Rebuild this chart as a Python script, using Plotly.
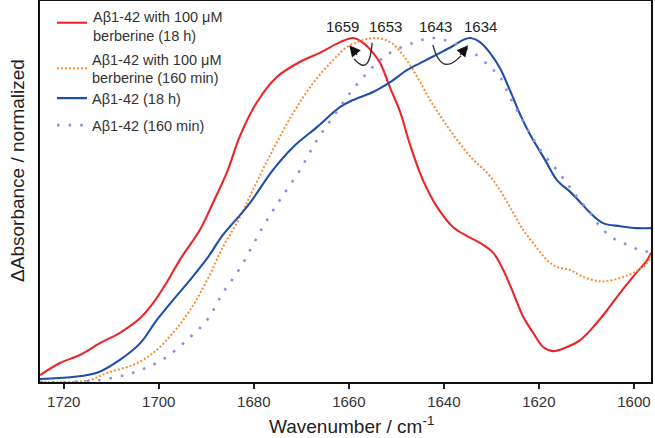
import plotly.graph_objects as go

# ---- data (wavenumber cm^-1, normalized absorbance) ----
red_w = [1725.0, 1720.8, 1716.6, 1712.4, 1708.2, 1703.9, 1701.2, 1698.3, 1695.5, 1691.3, 1688.6, 1685.6,
         1682.9, 1679.3, 1675.1, 1670.3, 1666.1, 1661.8, 1659.1, 1657.0, 1654.9, 1653.4, 1651.3, 1649.2,
         1647.1, 1644.4, 1641.4, 1638.1, 1635.1, 1632.4, 1629.6, 1627.5, 1625.4, 1623.3, 1621.2, 1619.1,
         1617.0, 1614.1, 1611.3, 1608.6, 1605.6, 1602.9, 1600.2, 1597.2, 1596.4]
red_v = [0.018, 0.050, 0.071, 0.102, 0.129, 0.168, 0.207, 0.262, 0.322, 0.400, 0.470, 0.552,
         0.646, 0.735, 0.801, 0.840, 0.864, 0.892, 0.903, 0.890, 0.864, 0.837, 0.772, 0.709,
         0.622, 0.530, 0.459, 0.407, 0.383, 0.365, 0.339, 0.294, 0.234, 0.171, 0.129, 0.092,
         0.081, 0.092, 0.110, 0.144, 0.189, 0.234, 0.276, 0.320, 0.339]

orange_w = [1725.0, 1718.1, 1714.5, 1710.9, 1705.4, 1701.2, 1697.0, 1693.4, 1689.8, 1686.5, 1682.9, 1680.2,
            1676.0, 1671.7, 1667.5, 1663.3, 1660.4, 1657.6, 1654.9, 1652.8, 1650.7, 1648.6, 1645.6, 1642.9,
            1640.2, 1637.2, 1633.8, 1630.9, 1628.2, 1625.4, 1623.3, 1621.2, 1618.3, 1616.2, 1613.4, 1610.7,
            1607.7, 1605.6, 1602.9, 1600.2, 1597.2, 1596.4]
orange_v = [0.000, 0.000, 0.005, 0.024, 0.045, 0.076, 0.129, 0.189, 0.268, 0.354, 0.433, 0.504,
            0.609, 0.706, 0.785, 0.845, 0.879, 0.895, 0.903, 0.900, 0.887, 0.858, 0.801, 0.740,
            0.688, 0.635, 0.583, 0.549, 0.504, 0.444, 0.399, 0.365, 0.320, 0.302, 0.294, 0.276,
            0.265, 0.265, 0.273, 0.286, 0.312, 0.333]

blue_w = [1725.0, 1718.1, 1713.0, 1708.2, 1703.9, 1700.4, 1697.0, 1693.4, 1689.8, 1686.5, 1682.9, 1680.8,
          1676.0, 1671.7, 1666.7, 1661.8, 1659.1, 1654.9, 1651.3, 1647.7, 1645.0, 1640.8, 1638.1, 1635.9,
          1634.5, 1632.4, 1630.3, 1628.2, 1626.1, 1623.9, 1621.8, 1618.7, 1616.2, 1613.4, 1611.3, 1609.2,
          1606.5, 1602.9, 1599.3, 1596.4]
blue_v = [0.008, 0.013, 0.024, 0.058, 0.102, 0.163, 0.215, 0.268, 0.325, 0.386, 0.438, 0.470,
          0.556, 0.617, 0.669, 0.722, 0.740, 0.761, 0.787, 0.819, 0.837, 0.864, 0.882, 0.898,
          0.903, 0.892, 0.864, 0.824, 0.766, 0.701, 0.648, 0.583, 0.530, 0.499, 0.472, 0.444,
          0.417, 0.409, 0.404, 0.404]

purple_w = [1725.0, 1718.1, 1710.9, 1703.9, 1698.3, 1693.4, 1689.8, 1686.5, 1682.9, 1678.1, 1674.5, 1670.3,
            1666.7, 1663.3, 1659.7, 1656.2, 1653.4, 1651.3, 1646.5, 1642.3, 1638.1, 1633.8, 1630.3, 1628.2,
            1626.1, 1622.9, 1619.7, 1616.6, 1614.1, 1612.0, 1609.2, 1607.1, 1604.4, 1601.4, 1598.7, 1596.4]
purple_v = [0.000, 0.000, 0.008, 0.031, 0.066, 0.118, 0.163, 0.234, 0.299, 0.407, 0.478, 0.556,
            0.635, 0.696, 0.759, 0.811, 0.845, 0.864, 0.890, 0.903, 0.890, 0.864, 0.827, 0.801,
            0.748, 0.675, 0.609, 0.562, 0.522, 0.486, 0.444, 0.407, 0.378, 0.360, 0.346, 0.341]

names = ["Aβ1-42 with 100 μM<br>berberine (18 h)",
         "Aβ1-42 with 100 μM<br>berberine (160 min)",
         "Aβ1-42 (18 h)",
         "Aβ1-42 (160 min)"]
colors = ["#e8262b", "#f39035", "#1f4fa8", "#8f8ee8"]

peak_labels = ["1659", "1653", "1643", "1634"]
peak_label_x = [1661.4, 1652.2, 1641.8, 1632.2]
peak_label_y = 0.932

x_ticks = [1720, 1700, 1680, 1660, 1640, 1620, 1600]

FONT = "Liberation Sans, Arial, Helvetica, sans-serif"

legend_keys = ["legend", "legend2", "legend3", "legend4"]
legend_y = [0.939, 0.823, 0.745, 0.674]

fig = go.Figure()
# first entry's legend is drawn as annotation + sample line (plotly clamps legend boxes at the page top)
fig.add_trace(go.Scatter(x=red_w, y=red_v, mode="lines", name=names[0], showlegend=False,
                         line=dict(color=colors[0], width=2.1), line_shape="spline"))
fig.add_trace(go.Scatter(x=orange_w, y=orange_v, mode="lines", name=names[1], legend=legend_keys[1],
                         line=dict(color=colors[1], width=2, dash="2px,2px"), line_shape="spline"))
fig.add_trace(go.Scatter(x=blue_w, y=blue_v, mode="lines", name=names[2], legend=legend_keys[2],
                         line=dict(color=colors[2], width=2.1), line_shape="spline"))
fig.add_trace(go.Scatter(x=purple_w, y=purple_v, mode="lines", name=names[3], legend=legend_keys[3],
                         line=dict(color=colors[3], width=2.6, dash="2.6px,9px"), line_shape="spline"))

fig.add_shape(type="line", xref="paper", yref="paper", x0=0.0278, x1=0.0769, y0=0.943, y1=0.943,
              line=dict(color=colors[0], width=2.1))
fig.add_annotation(xref="paper", yref="paper", x=0.0835, xanchor="left", y=0.934, yanchor="middle",
                   text=names[0], align="left", showarrow=False,
                   font=dict(size=14.5, color="#333", family=FONT))

for t, xx in zip(peak_labels, peak_label_x):
    fig.add_annotation(x=xx, y=peak_label_y, text=t, showarrow=False,
                       font=dict(size=15, color="#222", family=FONT))

# curved arrows (1653 -> 1659, 1643 -> 1634)
fig.add_shape(type="path", xref="x", yref="y",
              path="M 1655.1,0.890 Q 1655.6,0.800 1658.9,0.848",
              line=dict(color="#333", width=1.4))
fig.add_annotation(x=1659.9, y=0.884, ax=9, ay=11, text="", showarrow=True,
                   arrowhead=2, arrowsize=1.6, arrowwidth=1.4, arrowcolor="#111")
fig.add_shape(type="path", xref="x", yref="y",
              path="M 1642.3,0.884 Q 1640.6,0.800 1636.4,0.856",
              line=dict(color="#333", width=1.4))
fig.add_annotation(x=1634.9, y=0.884, ax=-9, ay=11, text="", showarrow=True,
                   arrowhead=2, arrowsize=1.6, arrowwidth=1.4, arrowcolor="#111")

# axis titles
fig.add_annotation(xref="paper", yref="paper", x=0.51, y=0, yanchor="middle", yshift=-43,
                   text="Wavenumber / cm<sup>-1</sup>", showarrow=False,
                   font=dict(size=19, color="#222", family=FONT))
fig.add_annotation(xref="paper", yref="paper", x=0, xanchor="center", xshift=-22, y=0.554,
                   text="ΔAbsorbance / normalized", textangle=-90, showarrow=False,
                   font=dict(size=19, color="#222", family=FONT))

legend_style = dict(x=0.0196, xanchor="left", yanchor="middle", bgcolor="rgba(0,0,0,0)",
                    font=dict(size=14.5, color="#333", family=FONT))
layout_legends = {k: dict(legend_style, y=yy) for k, yy in zip(legend_keys[1:], legend_y[1:])}

fig.update_layout(
    width=655, height=438,
    margin=dict(l=40, r=4, t=1, b=56, autoexpand=False),
    paper_bgcolor="white", plot_bgcolor="white",
    font=dict(family=FONT, color="#333", size=14),
    showlegend=True,
    **layout_legends,
)
fig.update_xaxes(range=[1725, 1596.4], tickvals=x_ticks, ticks="outside", ticklen=5,
                 tickwidth=1.5, tickcolor="#222", showgrid=False, zeroline=False,
                 showline=True, linecolor="#111", linewidth=2, mirror=True,
                 tickfont=dict(size=15, color="#333", family=FONT))
fig.update_yaxes(range=[0, 1], showticklabels=False, ticks="", showgrid=False, zeroline=False,
                 showline=True, linecolor="#111", linewidth=2, mirror=True)

fig.write_html("out.html", config={"displayModeBar": False},
               post_script="document.body.style.margin='0';document.body.style.padding='0';")
